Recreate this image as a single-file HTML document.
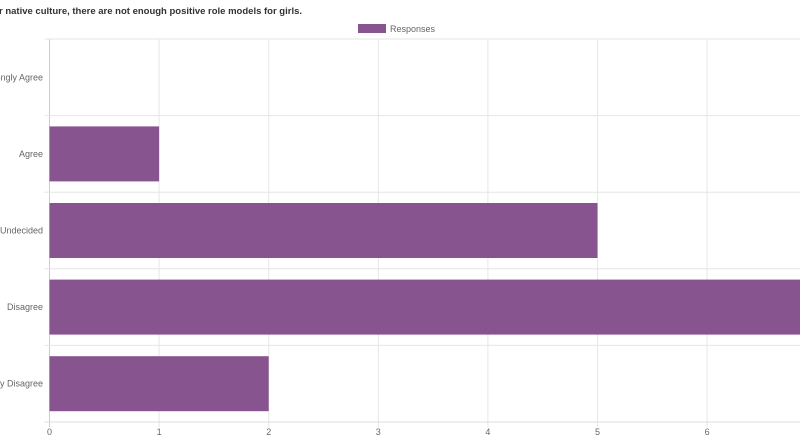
<!DOCTYPE html>
<html><head><meta charset="utf-8"><style>
body{margin:0;background:#fff;width:800px;height:445px;overflow:hidden}
svg{display:block;font-family:"Liberation Sans",sans-serif}
</style></head><body>
<svg width="800" height="445">
<text x="-1" y="14" font-size="9.5" font-weight="bold" fill="#333">r native culture, there are not enough positive role models for girls.</text>
<g>
<rect x="358" y="24" width="28" height="9" fill="#88548f"/>
<text x="390" y="32" font-size="9" fill="#666">Responses</text>
</g>
<g id="grid"></g><g id="bars"></g><g id="labels"></g>
</svg>
<script>
const categories=["Strongly Agree","Agree","Undecided","Disagree","Strongly Disagree"];
const values=[0,1,5,7,2];
const ticks=[0,1,2,3,4,5,6,7];
const x0=49.5,ppu=109.6,plotTop=39,plotBottom=422,band=(plotBottom-plotTop)/categories.length;
const xs=v=>x0+v*ppu;
const ns="http://www.w3.org/2000/svg";
const grid=document.getElementById('grid'),bars=document.getElementById('bars'),labels=document.getElementById('labels');
function mk(t,a,p){const e=document.createElementNS(ns,t);for(const k in a)e.setAttribute(k,a[k]);p.appendChild(e);return e;}
ticks.forEach(t=>{
 const l=mk('line',{x1:xs(t),x2:xs(t),y1:plotTop,y2:plotBottom+5,stroke:t===0?'#ccc':'#e6e6e6'},grid);
 
 
 const tx=mk('text',{x:xs(t),y:435,'font-size':9,fill:'#666','text-anchor':'middle'},labels);
 tx.textContent=t;
 
 
});
for(let i=0;i<=categories.length;i++){
 const l=mk('line',{x1:x0-5,x2:800,y1:plotTop+i*band,y2:plotTop+i*band,stroke:i===categories.length?'#ddd':'#e6e6e6'},grid);
 
 
}
categories.forEach((c,i)=>{
 const cy=plotTop+(i+0.5)*band;
 if(values[i]>0){
  const r=mk('rect',{x:x0,y:cy-27.5,width:values[i]*ppu,height:55,fill:'#88548f'},bars);
  
  
 }
 const t=mk('text',{x:43,y:cy+3,'font-size':9,fill:'#666','text-anchor':'end'},labels);
 t.textContent=c;
 
 
});
</script>
</body></html>
